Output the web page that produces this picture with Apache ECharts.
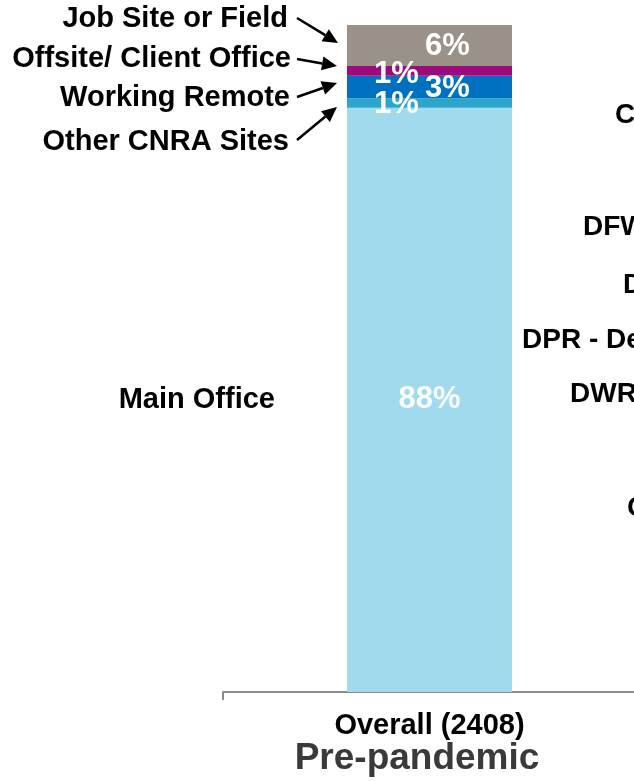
<!DOCTYPE html>
<html>
<head>
<meta charset="utf-8">
<script src="https://cdn.jsdelivr.net/npm/echarts@6/dist/echarts.min.js"></script>
<style>
  html, body { margin: 0; padding: 0; background: #fff; }
  #main { width: 634px; height: 781px; }
</style>
</head>
<body>
<div id="main"></div>
<script>
// categories on the x axis (second one lies off the visible area)
var categories = ['Overall (2408)', ''];

// stacked shares, bottom to top
var mainOffice = [87.6];
var otherCnra = [1.4];
var workingRemote = [3.4];
var offsiteClient = [1.45];
var jobSite = [6.15];

// names of the stacks, same order
var seriesNames = ['Main Office', 'Other CNRA Sites', 'Working Remote', 'Offsite/ Client Office', 'Job Site or Field'];

// clipped labels of the next panel on the right
var rightLabels = ['CNRA Department', 'DFW - Fish and Wildlife', 'DOC', 'DPR - Department of Parks', 'DWR - Water Resources', 'CalFire'];

var font = '"Liberation Sans", Arial, sans-serif';
var chart = echarts.init(document.getElementById('main'));

function pct(p) {
  return Math.round(p.value) + '%';
}

function makeSeries(name, data, color, offset, txtColor) {
  return {
    name: name,
    type: 'bar',
    stack: 'all',
    barWidth: 165,
    data: data,
    itemStyle: { color: color },
    label: {
      show: true,
      position: 'inside',
      offset: offset,
      formatter: pct,
      color: txtColor || '#fff',
      fontFamily: font,
      fontWeight: 'bold',
      fontSize: 31
    }
  };
}

// arrow made from a line and a small triangle head
function arrow(x1, y1, x2, y2) {
  var dx = x2 - x1, dy = y2 - y1;
  var len = Math.sqrt(dx * dx + dy * dy);
  var ux = dx / len, uy = dy / len;
  var hl = 15, hw = 7;
  var bx = x2 - ux * hl, by = y2 - uy * hl;
  return {
    type: 'group',
    children: [
      { type: 'line', shape: { x1: x1, y1: y1, x2: bx, y2: by }, style: { stroke: '#000', lineWidth: 2.5 } },
      { type: 'polygon', shape: { points: [[x2, y2], [bx - uy * hw, by + ux * hw], [bx + uy * hw, by - ux * hw]] }, style: { fill: '#000' } }
    ]
  };
}

function leftText(txt, x, y) {
  return {
    type: 'text', x: x, y: y,
    style: { text: txt, align: 'right', verticalAlign: 'middle', font: 'bold 29px ' + font, fill: '#000' }
  };
}

var rightPos = [[615, 115], [583, 227], [623, 285], [522, 340], [570, 394], [627, 508]];
var graphics = [
  leftText(seriesNames[4], 288, 19),
  leftText(seriesNames[3], 291, 59),
  leftText(seriesNames[2], 290, 98),
  leftText(seriesNames[1], 289, 142),
  leftText(seriesNames[0], 275, 400),
  arrow(297, 18, 338, 43),
  arrow(297, 59, 337, 66),
  arrow(297, 97, 337, 83),
  arrow(297, 140, 337, 107),
  {
    type: 'text', x: 417, y: 759,
    style: { text: 'Pre-pandemic', align: 'center', verticalAlign: 'middle', font: 'bold 37px ' + font, fill: '#3a3a3a' }
  }
];
rightLabels.forEach(function (t, i) {
  graphics.push({
    type: 'text', x: rightPos[i][0], y: rightPos[i][1],
    style: { text: t, align: 'left', verticalAlign: 'middle', font: 'bold 28px ' + font, fill: '#000' }
  });
});

chart.setOption({
  animation: false,
  grid: { left: 223, top: 25, width: 826, height: 667, containLabel: false, outerBoundsMode: 'none' },
  xAxis: {
    type: 'category',
    data: categories,
    axisLine: { lineStyle: { color: '#8c8c8c', width: 2 } },
    axisTick: { show: true, length: 8, lineStyle: { color: '#8c8c8c', width: 2 } },
    axisLabel: { color: '#000', fontFamily: font, fontWeight: 'bold', fontSize: 29, margin: 19 }
  },
  yAxis: { type: 'value', min: 0, max: 100, show: false },
  series: [
    makeSeries(seriesNames[0], mainOffice, '#a2daed', [0, 0], '#f8fcfe'),
    makeSeries(seriesNames[1], otherCnra, '#2ba6cb', [-33, 1]),
    makeSeries(seriesNames[2], workingRemote, '#0071c1', [18, 1]),
    makeSeries(seriesNames[3], offsiteClient, '#9c0a7e', [-33, 4]),
    makeSeries(seriesNames[4], jobSite, '#9a9189', [18, 1])
  ],
  graphic: graphics
});
</script>
</body>
</html>
